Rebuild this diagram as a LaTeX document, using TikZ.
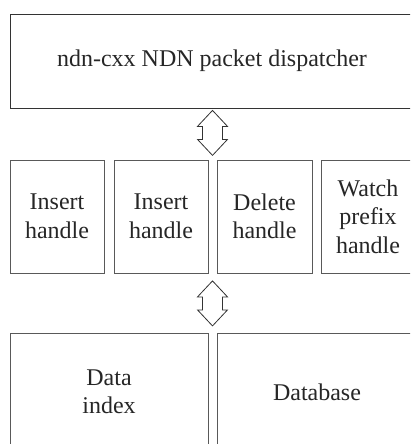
\documentclass[tikz,border=0pt]{standalone}
\usepackage{fontspec}
\setmainfont{Liberation Serif}
\usepackage{tikz}
\usetikzlibrary{positioning, calc}

\begin{document}
\begin{tikzpicture}[
    x=1pt, y=1pt,
    box/.style={draw=black!65, line width=0.8pt, inner sep=0pt, align=center,
                font=\fontsize{24}{28.5}\selectfont, text=black!85},
    topbox/.style={box, draw=black!80},
    blockarrow/.style={draw=black!80, line width=0.8pt, fill=white, line join=miter},
]
    \useasboundingbox (0,0) rectangle (410,-444);
    \clip (0,0) rectangle (410,-444);

    \node[topbox, minimum width=404, minimum height=94] (disp) at (212,-61) {ndn-cxx NDN packet dispatcher};

    \node[box, minimum width=94, minimum height=113] (ins1)  at (57,-216.5)  {Insert\\handle};
    \node[box, minimum width=94, minimum height=113] (ins2)  at (161,-216.5) {Insert\\handle};
    \node[box, minimum width=95, minimum height=113] (del)   at (264.5,-216.5) {Delete\\handle};
    \node[box, minimum width=94, minimum height=113] (watch) at (368,-216.5) {Watch\\prefix\\handle};

    \node[box, minimum width=198, minimum height=118] (index) at (109,-392) {Data\\index};
    \node[box, minimum width=200, minimum height=118] (db)    at (317,-392) {Database};

    \coordinate (tip1) at ($(disp.south -| ins2.east)!0.5!(disp.south -| del.west) + (0,-2)$);
    \coordinate (tip2) at ($(ins2.south east)!0.5!(del.south west) + (0,-7.5)$);

    % dispatcher <-> handles
    \draw[blockarrow] (tip1) -- ++(15,-16) -- ++(-5,0) -- ++(0,-13) -- ++(5,0) -- ++(-15,-16)
        -- ++(-15,16) -- ++(5,0) -- ++(0,13) -- ++(-5,0) -- cycle;

    % handles <-> storage
    \draw[blockarrow] (tip2) -- ++(15,-16) -- ++(-5,0) -- ++(0,-13) -- ++(5,0) -- ++(-15,-16)
        -- ++(-15,16) -- ++(5,0) -- ++(0,13) -- ++(-5,0) -- cycle;

\end{tikzpicture}
\end{document}
